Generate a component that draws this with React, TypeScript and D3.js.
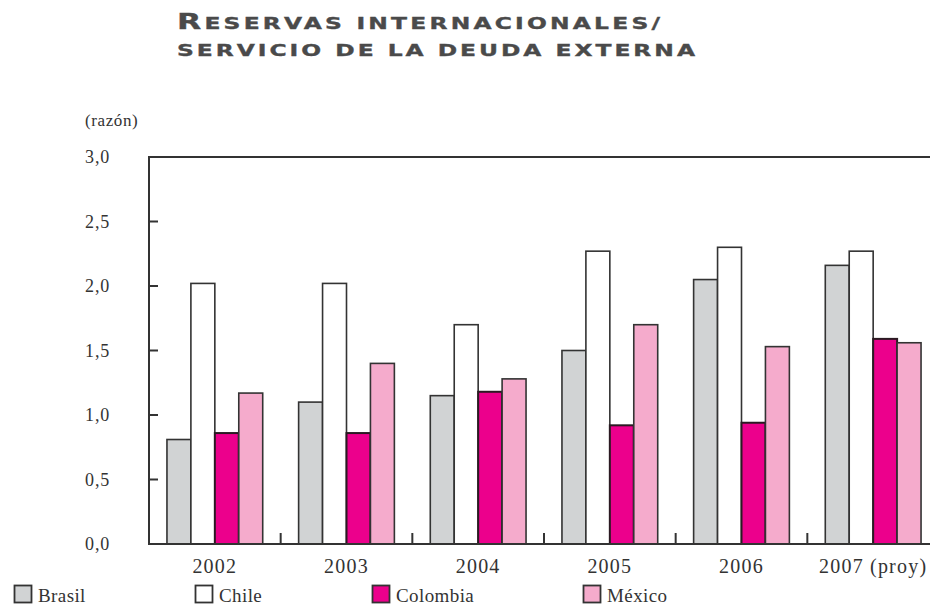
import React from "react";
import * as d3 from "d3";

// Razón reservas internacionales / servicio de la deuda externa
const categories = ["2002", "2003", "2004", "2005", "2006", "2007 (proy)"];
const seriesNames = ["Brasil", "Chile", "Colombia", "México"];
const brasil = [0.81, 1.1, 1.15, 1.5, 2.05, 2.16];
const chile = [2.02, 2.02, 1.7, 2.27, 2.3, 2.27];
const colombia = [0.86, 0.86, 1.18, 0.92, 0.94, 1.59];
const mexico = [1.17, 1.4, 1.28, 1.7, 1.53, 1.56];
const yTicks = [0, 0.5, 1, 1.5, 2, 2.5, 3];

const seriesValues = [brasil, chile, colombia, mexico];
const seriesColors = ["#d1d3d4", "#ffffff", "#ec008c", "#f5abcc"];

const W = 930;
const H = 608;
const plot = { left: 149, right: 939, top: 157, bottom: 544 };
const ink = "#333333";
const serif = "'Liberation Serif', 'Times New Roman', serif";

export default function App() {
  const x0 = d3
    .scaleBand<string>()
    .domain(categories)
    .range([plot.left, plot.right])
    .padding(0);
  const x1 = d3
    .scaleBand<string>()
    .domain(seriesNames)
    .range([0, x0.bandwidth()])
    .paddingInner(0)
    .paddingOuter(0.75);
  const y = d3.scaleLinear().domain([0, 3]).range([plot.bottom, plot.top]);
  const fmt = (v: number) => d3.format(".1f")(v).replace(".", ",");

  const legendX = [14, 195, 372, 583];
  const titleStretch = 1.5;

  return (
    <svg
      width={W}
      height={H}
      style={{ position: "absolute", left: 0, top: 0, background: "#fff" }}
    >
      {/* title, wide small caps */}
      <g
        fill="#4a4a4a"
        stroke="#4a4a4a"
        strokeWidth={0.35}
        fontFamily="'DejaVu Sans', sans-serif"
        fontWeight="bold"
      >
        <g transform={`translate(177,28.5) scale(${titleStretch},1)`}>
          <text textLength={483 / titleStretch} lengthAdjust="spacing">
            <tspan fontSize={21}>R</tspan>
            <tspan fontSize={15.6}>ESERVAS INTERNACIONALES/</tspan>
          </text>
        </g>
        <g transform={`translate(177,56) scale(${titleStretch},1)`}>
          <text fontSize={15.6} textLength={518 / titleStretch} lengthAdjust="spacing">
            SERVICIO DE LA DEUDA EXTERNA
          </text>
        </g>
      </g>

      {/* unit label */}
      <text
        x={85}
        y={126}
        fontFamily={serif}
        fontSize={17}
        letterSpacing={0.6}
        fill={ink}
      >
        (razón)
      </text>

      {/* y axis labels */}
      {yTicks.map((t) => (
        <text
          key={t}
          x={110}
          y={y(t)}
          dy="0.36em"
          textAnchor="end"
          fontFamily={serif}
          fontSize={18}
          letterSpacing={0.8}
          fill={ink}
        >
          {fmt(t)}
        </text>
      ))}

      {/* bars */}
      {categories.map((c, i) => (
        <g key={c} transform={`translate(${x0(c)},0)`}>
          {seriesNames.map((s, j) => {
            const v = seriesValues[j][i];
            return (
              <rect
                key={s}
                x={x1(s)}
                y={y(v)}
                width={x1.bandwidth()}
                height={y(0) - y(v)}
                fill={seriesColors[j]}
                stroke={j === 2 ? "#2a1a22" : ink}
                strokeWidth={j === 2 ? 2 : 1.6}
              />
            );
          })}
        </g>
      ))}

      {/* frame */}
      <rect
        x={plot.left}
        y={plot.top}
        width={plot.right - plot.left}
        height={plot.bottom - plot.top}
        fill="none"
        stroke={ink}
        strokeWidth={2}
      />

      {/* inward ticks on both vertical axes */}
      {yTicks.map((t) => (
        <g key={t} stroke={ink} strokeWidth={2}>
          <line x1={plot.left} x2={plot.left + 9} y1={y(t)} y2={y(t)} />
          <line x1={plot.right - 9} x2={plot.right} y1={y(t)} y2={y(t)} />
        </g>
      ))}

      {/* category separators on the x axis */}
      {categories.slice(1).map((c) => (
        <line
          key={c}
          x1={x0(c)}
          x2={x0(c)}
          y1={plot.bottom}
          y2={plot.bottom - 11}
          stroke={ink}
          strokeWidth={2}
        />
      ))}

      {/* x axis labels */}
      {categories.map((c) => (
        <text
          key={c}
          x={(x0(c) as number) + x0.bandwidth() / 2}
          y={573}
          textAnchor="middle"
          fontFamily={serif}
          fontSize={20}
          letterSpacing={1.2}
          fill={ink}
        >
          {c}
        </text>
      ))}

      {/* legend */}
      {seriesNames.map((s, j) => (
        <g key={s} transform={`translate(${legendX[j]},585)`}>
          <rect
            x={0.5}
            y={0.5}
            width={17}
            height={17}
            fill={seriesColors[j]}
            stroke={ink}
            strokeWidth={1.8}
          />
          <text
            x={24}
            y={17}
            fontFamily={serif}
            fontSize={19}
            letterSpacing={0.4}
            fill={ink}
          >
            {s}
          </text>
        </g>
      ))}
    </svg>
  );
}
